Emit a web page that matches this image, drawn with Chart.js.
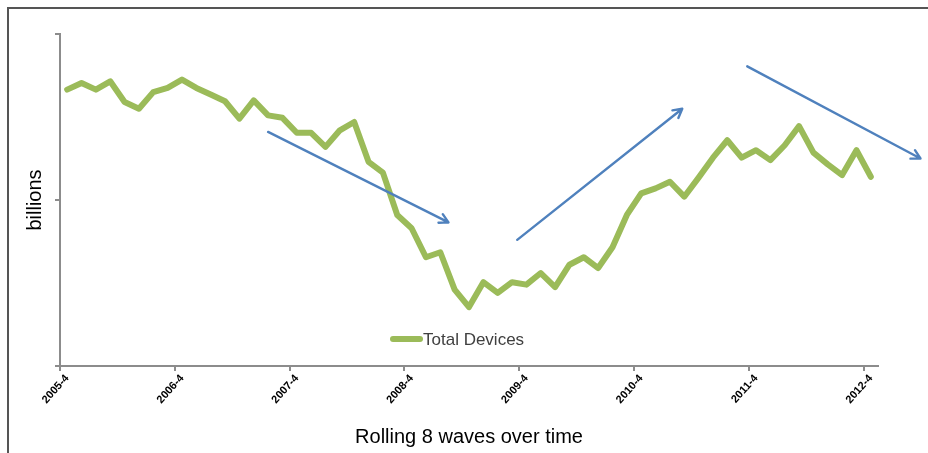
<!DOCTYPE html>
<html>
<head>
<meta charset="utf-8">
<script src="https://cdn.jsdelivr.net/npm/chart.js@4.4.1/dist/chart.umd.min.js"></script>
<style>
    html, body { margin: 0; padding: 0; background: #fff; }
    #wrap { position: relative; width: 928px; height: 453px; }
</style>
</head>
<body>
<div id="wrap"><canvas id="chart-total-devices"></canvas></div>
<script>
/*
/----------------------------------------
/- total devices, rolling 8 waves
/- id canvas = chart-total-devices
/----------------------------------------
*/

// tick labels, one every 8 waves
const tickLabels = ["2005-4", "2006-4", "2007-4", "2008-4", "2009-4", "2010-4", "2011-4", "2012-4"];
const wavesPerLabel = 8;

// series values (billions)
const totalDevices = [
    3.33, 3.41, 3.33, 3.43, 3.18, 3.10, 3.30, 3.35,
    3.45, 3.35, 3.27, 3.19, 2.98, 3.20, 3.02, 2.99,
    2.81, 2.81, 2.64, 2.84, 2.94, 2.46, 2.33, 1.82,
    1.66, 1.31, 1.37, 0.92, 0.71, 1.01, 0.88, 1.01,
    0.98, 1.12, 0.95, 1.22, 1.31, 1.18, 1.43, 1.82,
    2.08, 2.14, 2.22, 2.04, 2.27, 2.51, 2.72, 2.51,
    2.60, 2.48, 2.66, 2.89, 2.57, 2.43, 2.30, 2.60,
    2.28,
];

// trend arrows: [startWave, startValue, endWave, endValue]
const trendArrows = [
    [14.0, 2.82, 26.57, 1.73],
    [31.36, 1.52, 42.86, 3.10],
    [47.39, 3.61, 59.46, 2.50],
];

// categories built from the tick labels
const waveLabels = totalDevices.map((v, i) =>
    i % wavesPerLabel === 0 ? tickLabels[i / wavesPerLabel] : ""
);

const axisGrey = "#8c8c8c";
const lineGreen = "#9bbb59";
const arrowBlue = "#4f81bd";

// frame, arrows and legend drawn on top
const extrasPlugin = {
    id: "extras",
    beforeDraw(chart) {
        const c = chart.ctx;
        c.save();
        c.strokeStyle = "#555";
        c.lineWidth = 2;
        c.beginPath();
        c.moveTo(8, chart.height);
        c.lineTo(8, 8);
        c.lineTo(chart.width, 8);
        c.stroke();
        c.restore();
    },
    afterDatasetsDraw(chart) {
        const c = chart.ctx;
        const x = chart.scales.x;
        const y = chart.scales.y;
        c.save();
        c.strokeStyle = arrowBlue;
        c.lineWidth = 2.4;
        c.lineCap = "round";
        c.lineJoin = "round";
        trendArrows.forEach(a => {
            const x0 = x.getPixelForValue(a[0]);
            const y0 = y.getPixelForValue(a[1]);
            const x1 = x.getPixelForValue(a[2]);
            const y1 = y.getPixelForValue(a[3]);
            const ang = Math.atan2(y1 - y0, x1 - x0);
            const head = 10;
            c.beginPath();
            c.moveTo(x0, y0);
            c.lineTo(x1, y1);
            c.moveTo(x1 - head * Math.cos(ang - 0.5), y1 - head * Math.sin(ang - 0.5));
            c.lineTo(x1, y1);
            c.lineTo(x1 - head * Math.cos(ang + 0.5), y1 - head * Math.sin(ang + 0.5));
            c.stroke();
        });

        // legend inside the plot
        const lx = 393, ly = 339;
        c.strokeStyle = lineGreen;
        c.lineWidth = 6;
        c.beginPath();
        c.moveTo(lx, ly);
        c.lineTo(lx + 27, ly);
        c.stroke();
        c.fillStyle = "#404040";
        c.font = "17px 'Liberation Sans', Arial, sans-serif";
        c.textBaseline = "middle";
        c.fillText(chart.data.datasets[0].label, lx + 30, ly + 1);
        c.restore();
    },
};

// setup chart
const dataTotalDevices = {
    labels: waveLabels,
    datasets: [
        {
            label: "Total Devices",
            data: totalDevices,
            fill: false,
            borderColor: lineGreen,
            borderWidth: 6,
            borderJoinStyle: "round",
            borderCapStyle: "round",
            pointRadius: 0,
            tension: 0,
        },
    ],
};

// config
const configTotalDevices = {
    type: "line",
    data: dataTotalDevices,
    plugins: [extrasPlugin],
    options: {
        responsive: true,
        maintainAspectRatio: false,
        animation: false,
        layout: {
            padding: { top: 34, right: 50, left: 0, bottom: 0 },
        },
        plugins: {
            legend: { display: false },
            tooltip: { enabled: false },
        },
        scales: {
            x: {
                offset: true,
                border: { display: true, color: axisGrey, width: 2 },
                grid: {
                    offset: true,
                    drawOnChartArea: false,
                    drawTicks: true,
                    tickLength: 5,
                    lineWidth: 2,
                    color: (ctx) => (ctx.index % wavesPerLabel === 0 ? axisGrey : "rgba(0,0,0,0)"),
                },
                ticks: {
                    autoSkip: false,
                    maxRotation: 48,
                    minRotation: 48,
                    padding: 1,
                    color: "#000",
                    font: { family: "'Liberation Sans Narrow', 'Liberation Sans', Arial, sans-serif", size: 11, weight: "bold" },
                },
                title: {
                    display: true,
                    text: "Rolling 8 waves over time",
                    color: "#000",
                    font: { family: "'Liberation Sans', Arial, sans-serif", size: 20 },
                    padding: { top: 0, bottom: 4 },
                },
                afterFit: (scale) => { scale.height = 453 - 366; },
            },
            y: {
                min: 0,
                max: 4,
                border: { display: true, color: axisGrey, width: 2 },
                grid: {
                    drawOnChartArea: false,
                    drawTicks: true,
                    tickLength: 5,
                    lineWidth: 2,
                    color: axisGrey,
                },
                ticks: {
                    stepSize: 2,
                    callback: () => "",
                },
                title: {
                    display: true,
                    text: "billions",
                    color: "#000",
                    font: { family: "'Liberation Sans', Arial, sans-serif", size: 20 },
                    padding: { top: 23, bottom: 0 },
                },
                afterFit: (scale) => { scale.width = 60; },
            },
        },
    },
};

// render init block
const ctxDevices = document.getElementById("chart-total-devices");
new Chart(ctxDevices, configTotalDevices);
</script>
</body>
</html>
